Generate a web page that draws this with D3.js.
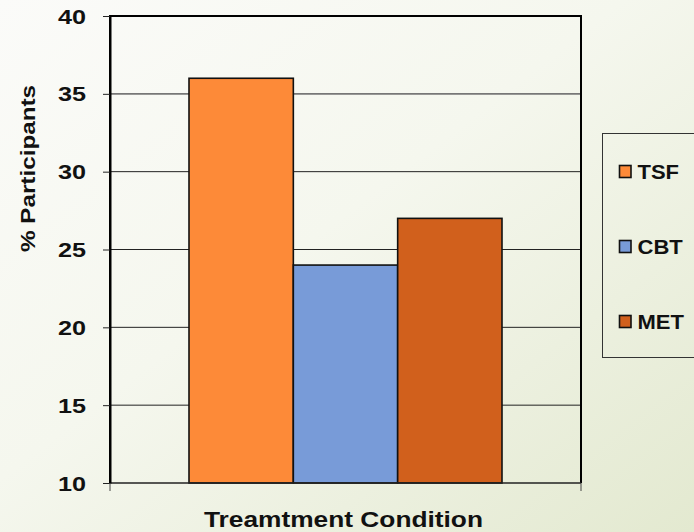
<!DOCTYPE html>
<html><head><meta charset="utf-8">
<script src="https://cdn.jsdelivr.net/npm/d3@7"></script>
<style>html,body{margin:0;padding:0;overflow:hidden}</style>
</head><body>
<script>
const categories = ["TSF", "CBT", "MET"];
const values = [36, 24, 27];
const colors = ["#fd8a38", "#789bd8", "#d1601c"];
const yTicks = [10, 15, 20, 25, 30, 35, 40];
const xTitle = "Treamtment Condition";
const yTitle = "% Participants";

const FONT = "Liberation Sans, Arial, sans-serif";
const W = 694, H = 532;
const svg = d3.select("body").append("svg").attr("width", W).attr("height", H);
const defs = svg.append("defs");
const g = defs.append("linearGradient").attr("id", "bg").attr("x1", "0").attr("y1", "0").attr("x2", "1").attr("y2", "1");
g.append("stop").attr("offset", "0").attr("stop-color", "#fbfbf9");
g.append("stop").attr("offset", "0.45").attr("stop-color", "#f5f7ee");
g.append("stop").attr("offset", "1").attr("stop-color", "#e3e9d0");
svg.append("rect").attr("width", W).attr("height", H).attr("fill", "url(#bg)");

function stretch(sel, f) {
  sel.each(function () {
    const w = this.getComputedTextLength();
    d3.select(this).attr("textLength", w * f).attr("lengthAdjust", "spacingAndGlyphs");
  });
}

const L = 110, R = 581, T = 16, B = 483;
const y = d3.scaleLinear().domain([10, 40]).range([B, T]);
const x = d3.scaleBand().domain(categories).range([189, 502]).padding(0);

// gridlines
svg.append("g").selectAll("line").data(yTicks.filter(d => d > 10 && d < 40)).join("line")
  .attr("x1", L).attr("x2", R).attr("y1", d => y(d)).attr("y2", d => y(d))
  .attr("stroke", d => d === 35 ? "#777" : "#222").attr("stroke-width", d => d === 35 ? 1.6 : 1);

// bars
svg.append("g").selectAll("rect").data(categories).join("rect")
  .attr("x", d => x(d)).attr("width", x.bandwidth())
  .attr("y", (d, i) => y(values[i])).attr("height", (d, i) => B - y(values[i]))
  .attr("fill", (d, i) => colors[i]).attr("stroke", "#111").attr("stroke-width", 1.6);

// frame
svg.append("path").attr("d", `M${L},${B}V${T}H${R}V${B}`).attr("fill", "none").attr("stroke", "#000").attr("stroke-width", 2);
svg.append("line").attr("x1", L).attr("x2", R).attr("y1", B).attr("y2", B).attr("stroke", "#222").attr("stroke-width", 1.5);

// y axis
const yAxis = d3.axisLeft(y).tickValues(yTicks).tickSize(7).tickPadding(17).tickSizeOuter(0);
const ya = svg.append("g").attr("transform", `translate(${L},0)`).call(yAxis);
ya.select(".domain").attr("stroke", "#000").attr("stroke-width", 2);
ya.selectAll(".tick line").attr("stroke", "#222");
ya.selectAll("text").attr("font-family", FONT).attr("font-weight", "bold").attr("font-size", 20).attr("fill", "#111").attr("dy", "0.35em");
stretch(ya.selectAll("text"), 1.26);

// x edge ticks
svg.append("g").selectAll("line").data([L, R]).join("line")
  .attr("x1", d => d).attr("x2", d => d).attr("y1", B).attr("y2", B + 8).attr("stroke", "#444").attr("stroke-width", 1);

// titles
svg.append("text").attr("x", 343.5).attr("y", 527).attr("text-anchor", "middle")
  .attr("font-family", FONT).attr("font-weight", "bold").attr("font-size", 22).attr("fill", "#111")
  .attr("textLength", 279).attr("lengthAdjust", "spacingAndGlyphs").text(xTitle);
svg.append("text").attr("transform", `translate(35,168.5) rotate(-90)`).attr("text-anchor", "middle")
  .attr("font-family", FONT).attr("font-weight", "bold").attr("font-size", 21).attr("fill", "#111")
  .attr("textLength", 167).attr("lengthAdjust", "spacingAndGlyphs").text(yTitle);

// legend
svg.append("rect").attr("x", 602.5).attr("y", 133.5).attr("width", 120).attr("height", 224)
  .attr("fill", "none").attr("stroke", "#333").attr("stroke-width", 1);
const lg = svg.append("g").selectAll("g").data(categories).join("g")
  .attr("transform", (d, i) => `translate(619,${171.5 + i * 75})`);
lg.append("rect").attr("x", 0.5).attr("y", -6).attr("width", 11.5).attr("height", 12)
  .attr("fill", (d, i) => colors[i]).attr("stroke", "#111").attr("stroke-width", 1.6);
const lt = lg.append("text").attr("x", 18.5).attr("y", 7.5).text(d => d)
  .attr("font-family", FONT).attr("font-weight", "bold").attr("font-size", 20).attr("fill", "#111");
stretch(lt, 1.1);
</script>
</body></html>
